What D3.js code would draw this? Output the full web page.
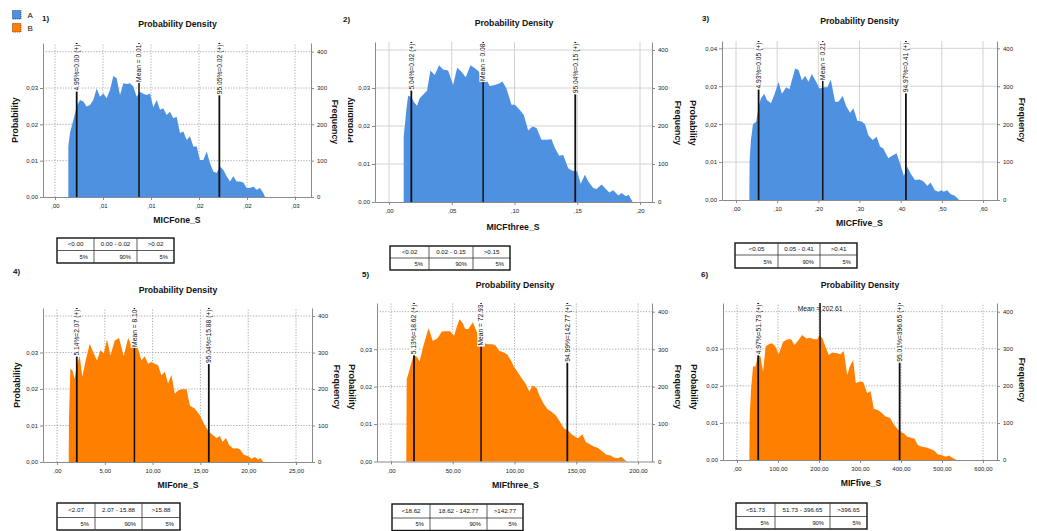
<!DOCTYPE html>
<html>
<head>
<meta charset="utf-8">
<script src="https://cdn.jsdelivr.net/npm/d3@7"></script>
<style>
  body { margin: 0; background: #fff; }
  text { font-family: "Liberation Sans", Arial, sans-serif; }
</style>
</head>
<body>
<svg id="chart" width="1037" height="531"></svg>
<script>
// ---- data: [x, frequency] per density curve ----
const dens1 = [[0.00139,0],[0.00139,139],[0.00156,176],[0.00191,212],[0.00226,249],[0.00260,267],[0.00295,263],[0.00330,249],[0.00365,253],[0.00399,267],[0.00434,299],[0.00469,276],[0.00503,285],[0.00538,272],[0.00573,295],[0.00608,333],[0.00642,327],[0.00677,281],[0.00712,313],[0.00747,311],[0.00781,313],[0.00816,304],[0.00851,276],[0.00885,290],[0.00920,284],[0.00955,281],[0.00990,285],[0.01024,247],[0.01059,267],[0.01094,240],[0.01128,244],[0.01163,226],[0.01198,235],[0.01233,217],[0.01267,221],[0.01302,176],[0.01337,180],[0.01372,157],[0.01406,167],[0.01441,139],[0.01476,139],[0.01510,102],[0.01545,102],[0.01580,125],[0.01615,93],[0.01649,70],[0.01684,66],[0.01719,84],[0.01753,75],[0.01788,57],[0.01823,43],[0.01858,57],[0.01892,43],[0.01927,43],[0.01962,40],[0.01997,25],[0.02031,25],[0.02066,29],[0.02101,20],[0.02135,25],[0.02170,11],[0.02188,0]];
const dens2 = [[0.0117,0],[0.0117,172],[0.0138,242],[0.0152,279],[0.0178,277],[0.0197,264],[0.0223,253],[0.0245,273],[0.0271,282],[0.0303,293],[0.0330,346],[0.0364,334],[0.0399,360],[0.0431,349],[0.0471,346],[0.0511,308],[0.0543,353],[0.0577,343],[0.0612,328],[0.0649,360],[0.0684,352],[0.0718,343],[0.0745,321],[0.0777,321],[0.0803,305],[0.0843,308],[0.0878,312],[0.0904,317],[0.0936,299],[0.0976,256],[0.1003,256],[0.1043,242],[0.1074,229],[0.1109,188],[0.1144,199],[0.1176,195],[0.1215,164],[0.1255,164],[0.1295,165],[0.1322,142],[0.1356,122],[0.1388,124],[0.1428,89],[0.1455,83],[0.1500,80],[0.1527,48],[0.1561,72],[0.1588,54],[0.1628,37],[0.1654,34],[0.1694,46],[0.1721,37],[0.1755,25],[0.1787,31],[0.1827,17],[0.1854,24],[0.1888,15],[0.1910,19],[0.1941,0]];
const dens3 = [[0.0323,0],[0.0331,105],[0.0363,158],[0.0412,200],[0.0493,207],[0.0549,246],[0.0606,268],[0.0687,280],[0.0751,264],[0.0848,255],[0.0929,277],[0.1034,311],[0.1115,280],[0.1220,297],[0.1300,292],[0.1357,316],[0.1438,347],[0.1519,343],[0.1599,316],[0.1680,327],[0.1761,312],[0.1842,332],[0.1947,312],[0.2027,294],[0.2141,297],[0.2221,297],[0.2302,318],[0.2407,259],[0.2488,259],[0.2593,274],[0.2674,248],[0.2771,230],[0.2851,242],[0.2948,209],[0.3053,207],[0.3134,200],[0.3215,171],[0.3320,158],[0.3417,167],[0.3498,141],[0.3578,136],[0.3700,110],[0.3780,116],[0.3901,123],[0.3982,97],[0.4079,63],[0.4160,88],[0.4241,70],[0.4346,53],[0.4467,54],[0.4564,48],[0.4645,37],[0.4725,46],[0.4830,26],[0.4911,22],[0.4992,26],[0.5048,22],[0.5129,26],[0.5210,16],[0.5315,11],[0.5420,0]];
const dens4 = [[1.22,0],[1.26,128],[1.40,256],[1.61,251],[1.85,228],[2.09,265],[2.37,292],[2.65,233],[3.00,278],[3.42,324],[3.84,297],[4.19,278],[4.54,306],[4.89,297],[5.24,336],[5.59,292],[6.04,333],[6.49,340],[6.98,290],[7.44,340],[7.79,320],[8.14,324],[8.48,310],[8.83,278],[9.18,290],[9.53,269],[9.88,274],[10.23,269],[10.57,265],[10.92,237],[11.27,247],[11.62,215],[11.97,239],[12.32,187],[12.67,196],[13.02,199],[13.55,199],[13.90,155],[14.42,146],[14.94,128],[15.47,100],[15.92,82],[16.34,73],[16.69,66],[17.04,71],[17.32,55],[17.67,66],[18.02,46],[18.44,37],[18.85,38],[19.13,35],[19.55,20],[20.01,16],[20.36,9],[20.71,14],[21.05,7],[21.30,11],[21.58,0]];
const dens5 = [[12.4,0],[12.7,218],[15.6,253],[18.3,283],[21.0,280],[23.1,267],[26.4,311],[30.4,356],[33.9,322],[37.7,329],[41.2,347],[44.7,348],[47.9,348],[51.1,336],[53.3,360],[55.5,380],[58.1,369],[60.0,354],[62.7,354],[66.2,372],[69.4,347],[72.1,322],[74.8,318],[78.1,313],[81.6,313],[84.3,311],[87.8,295],[91.0,292],[94.2,286],[96.9,271],[99.6,253],[102.3,240],[105.8,222],[109.3,206],[112.0,187],[114.7,203],[117.9,196],[120.6,173],[123.3,156],[126.5,140],[130.0,133],[133.5,123],[136.7,107],[140.0,89],[143.5,82],[146.2,73],[148.9,67],[151.5,62],[155.0,73],[157.7,52],[161.0,46],[164.2,40],[167.7,36],[171.2,27],[174.4,18],[177.7,16],[180.3,11],[183.8,9],[186.5,13],[189.2,4],[191.1,0]];
const dens6 = [[30.1,0],[30.9,117],[34.2,189],[39.1,252],[44.8,252],[50.5,279],[57.0,281],[63.5,238],[70.0,306],[77.3,312],[85.5,315],[93.6,306],[101.8,285],[112.4,319],[123.7,326],[131.9,326],[140.0,310],[148.2,321],[158.8,337],[169.3,328],[177.5,330],[187.3,326],[195.4,326],[201.9,337],[208.4,328],[215.7,306],[223.9,283],[232.0,290],[244.2,288],[252.4,285],[260.5,294],[268.7,229],[275.2,252],[283.3,270],[289.8,207],[298.0,211],[307.7,211],[317.5,180],[325.6,186],[333.8,138],[343.6,135],[354.1,126],[362.3,117],[372.9,114],[382.6,96],[397.3,76],[407.1,72],[415.2,63],[425.0,60],[433.1,57],[441.3,40],[451.8,36],[464.0,33],[472.2,30],[482.0,24],[490.1,15],[500.7,13],[508.8,9],[517.0,12],[525.1,6],[535.7,0]];

// reference lines: [x, label]
const refs1 = [[0.00226,"4.95%=0.00 (+)"],[0.00875,"Mean = 0.01"],[0.01712,"95.05%=0.02 (+)"]];
const refs2 = [[0.0178,"5.04%=0.02 (+)"],[0.0750,"Mean = 0.08"],[0.1484,"95.04%=0.15 (+)"]];
const refs3 = [[0.0549,"4.93%=0.05 (+)"],[0.2107,"Mean = 0.21"],[0.4127,"94.97%=0.41 (+)"]];
const refs4 = [[2.07,"5.14%=2.07 (+)"],[8.10,"Mean = 8.10"],[15.88,"95.04%=15.88 (+)"]];
const refs5 = [[18.62,"5.13%=18.62 (+)"],[72.93,"Mean = 72.93"],[142.77,"94.99%=142.77 (+)"]];
const refs6 = [[51.73,"4.97%=51.73 (+)"],[202.61,"Mean = 202.61"],[396.65,"95.01%=396.65 (+)"]];

// ticks
const xTicks1 = [0,0.005,0.01,0.015,0.02,0.025], xLabels1 = [",00",",01",",01",",02",",02",",03"];
const xTicks2 = [0,0.05,0.1,0.15,0.2], xLabels2 = [",00",",05",",10",",15",",20"];
const xTicks3 = [0,0.1,0.2,0.3,0.4,0.5,0.6], xLabels3 = [",00",",10",",20",",30",",40",",50",",60"];
const xTicks4 = [0,5,10,15,20,25], xLabels4 = [",00","5,00","10,00","15,00","20,00","25,00"];
const xTicks5 = [0,50,100,150,200], xLabels5 = [",00","50,00","100,00","150,00","200,00"];
const xTicks6 = [0,100,200,300,400,500,600], xLabels6 = [",00","100,00","200,00","300,00","400,00","500,00","600,00"];
const probTicks = [0,0.01,0.02,0.03], probLabels = ["0,00","0,01","0,02","0,03"];
const probTicks3 = [0,0.01,0.02,0.03,0.04], probLabels3 = ["0,00","0,01","0,02","0,03","0,04"];
const freqTicks = [0,100,200,300,400], freqLabels = ["0","100","200","300","400"];

// variable names and percentile tables
const varNames = ["MICFone_S","MICFthree_S","MICFfive_S","MIFone_S","MIFthree_S","MIFfive_S"];
const ranges1 = ["<0.00","0.00 - 0.02",">0.02"];
const ranges2 = ["<0.02","0.02 - 0.15",">0.15"];
const ranges3 = ["<0.05","0.05 - 0.41",">0.41"];
const ranges4 = ["<2.07","2.07 - 15.88",">15.88"];
const ranges5 = ["<18.62","18.62 - 142.77",">142.77"];
const ranges6 = ["<51.73","51.73 - 396.65",">396.65"];
const shares = ["5%","90%","5%"];
const groups = ["A","B"];

const colA = "#4f91e1", colB = "#ff8000";
const FONT = '"Liberation Sans", Arial, sans-serif';

// layout of the collage (pixel positions)
const panels = [
  {num:"1)", numPos:[42,21], left:43, right:311, top:43, base:197, y400:51.7, tx0:55, txN:295, dotted:true,
   title:[177.5,26.5], xlab:[177,223], ylab:[15,120,-90], flab:[335,122],
   tbl:{x:[57,94,137,174], y:[238,250.5,263]},
   dens:dens1, refs:refs1, xTicks:xTicks1, xLabels:xLabels1, pT:probTicks, pL:probLabels, ranges:ranges1, color:colA},
  {num:"2)", numPos:[343,21.5], left:375, right:652, top:42, base:202, y400:50, tx0:389, txN:640, dotted:false,
   title:[514,25.5], xlab:[513,229.5], ylab:[350,120,-90], ylabClip:348, flab:[678,123],
   tbl:{x:[390,429,473,510], y:[246,258,270]},
   dens:dens2, refs:refs2, xTicks:xTicks2, xLabels:xLabels2, pT:probTicks, pL:probLabels, ranges:ranges2, color:colA},
  {num:"3)", numPos:[702,20.5], left:722, right:997, top:41, base:200, y400:48.3, tx0:736, txN:983, dotted:false,
   title:[859.5,23.5], xlab:[859.5,226], ylab:[693,123,90], flab:[1022,120],
   tbl:{x:[735,778,820,857], y:[243,255,268]},
   dens:dens3, refs:refs3, xTicks:xTicks3, xLabels:xLabels3, pT:probTicks3, pL:probLabels3, ranges:ranges3, color:colA},
  {num:"4)", numPos:[13,274], left:43, right:312, top:308, base:462, y400:316, tx0:57, txN:296, dotted:true,
   title:[178,292.5], xlab:[178,487.5], ylab:[17,385,-90], flab:[337,387],
   tbl:{x:[57,95,142,180], y:[503,517.5,530]},
   dens:dens4, refs:refs4, xTicks:xTicks4, xLabels:xLabels4, pT:probTicks, pL:probLabels, ranges:ranges4, color:colB},
  {num:"5)", numPos:[362,276.5], left:377, right:652, top:303, base:461.5, y400:311.7, tx0:391, txN:638, dotted:true,
   title:[515,287.5], xlab:[515.5,487.5], ylab:[352,387,90], flab:[678,387],
   tbl:{x:[392,430,487,523], y:[504,518,530.5]},
   dens:dens5, refs:refs5, xTicks:xTicks5, xLabels:xLabels5, pT:probTicks, pL:probLabels, ranges:ranges5, color:colB},
  {num:"6)", numPos:[701,276.5], left:723, right:997, top:303, base:460, y400:311.7, tx0:737, txN:983, dotted:true,
   title:[860,287.5], xlab:[861,485.5], ylab:[694,387,90], flab:[1022,380], meanFlat:true,
   tbl:{x:[736,775,830,867], y:[503,516.5,529]},
   dens:dens6, refs:refs6, xTicks:xTicks6, xLabels:xLabels6, pT:probTicks, pL:probLabels, ranges:ranges6, color:colB}
];

const svg = d3.select('#chart');
svg.append('rect').attr('width',1037).attr('height',531).attr('fill','#fff');

function styleAxis(sel){
  sel.attr('font-family', FONT).attr('font-size', 6);
  sel.select('.domain').attr('stroke','#8a8a8a');
  sel.selectAll('.tick line').attr('stroke','#8a8a8a');
  sel.selectAll('.tick text').attr('fill','#222');
}

function vLabel(g, pos, text, clipId){
  // wrapper group carries the clip so the clip rect stays in page coordinates
  const wrap = g.append('g');
  if (clipId) wrap.attr('clip-path', `url(#${clipId})`);
  wrap.append('text')
    .attr('transform', `translate(${pos[0]},${pos[1]}) rotate(${pos[2]})`)
    .attr('text-anchor','middle').attr('dy','0.35em')
    .attr('font-weight','bold').attr('font-size',8.8).attr('fill','#111')
    .text(text);
}

function drawPanel(p, i){
  const g = svg.append('g');
  const t0 = p.xTicks[0], tN = p.xTicks[p.xTicks.length-1];
  const k = (p.txN - p.tx0) / (tN - t0);
  const x = d3.scaleLinear()
    .domain([t0 + (p.left - p.tx0)/k, t0 + (p.right - p.tx0)/k])
    .range([p.left, p.right]);
  const fMax = 400 * (p.base - p.top) / (p.base - p.y400);
  const yF = d3.scaleLinear().domain([0, fMax]).range([p.base, p.top]);
  const yP = d3.scaleLinear().domain([0, fMax/10000]).range([p.base, p.top]);

  // grid
  const gridCol = p.dotted ? '#a8a8a8' : '#d2d2d2';
  const dash = p.dotted ? '1.2,1.6' : null;
  g.selectAll('line.vg').data(p.xTicks).join('line').attr('class','vg')
    .attr('x1', d => x(d)).attr('x2', d => x(d)).attr('y1', p.base).attr('y2', p.top)
    .attr('stroke', gridCol).attr('stroke-dasharray', dash);
  g.selectAll('line.hg').data(freqTicks.slice(1)).join('line').attr('class','hg')
    .attr('x1', p.left).attr('x2', p.right).attr('y1', d => yF(d)).attr('y2', d => yF(d))
    .attr('stroke', gridCol).attr('stroke-dasharray', dash);

  // density area
  const area = d3.area().x(d => x(d[0])).y0(p.base).y1(d => yF(d[1]));
  g.append('path').datum(p.dens).attr('d', area).attr('fill', p.color);

  // reference lines with labels
  p.refs.forEach(([v, label], j) => {
    const xv = x(v);
    g.append('line').attr('x1', xv).attr('x2', xv).attr('y1', p.base).attr('y2', p.top)
      .attr('stroke', '#111').attr('stroke-width', j === 1 ? 1.5 : 1.8);
    if (p.meanFlat && j === 1) {
      g.append('text').attr('x', xv).attr('y', p.top + 7.5).attr('text-anchor','middle')
        .attr('font-size', 6.7).attr('fill','#111').text(label);
      return;
    }
    const lg = g.append('g').attr('transform', `translate(${xv},${p.top + 1.5}) rotate(-90)`);
    const r = lg.append('rect');
    const tx = lg.append('text').attr('text-anchor','end').attr('dy','0.35em')
      .attr('font-size', 6.7).attr('fill','#111').text(label);
    const len = tx.node().getComputedTextLength();
    r.attr('x', -len - 1).attr('y', -3.8).attr('width', len + 1.5).attr('height', 7.6).attr('fill','#fff');
  });

  // axes
  g.append('g').attr('transform', `translate(${p.left},0)`)
    .call(d3.axisLeft(yP).tickValues(p.pT).tickFormat((d, n) => p.pL[n]).tickSize(3).tickSizeOuter(0).tickPadding(2))
    .call(styleAxis);
  g.append('g').attr('transform', `translate(${p.right},0)`)
    .call(d3.axisRight(yF).tickValues(freqTicks).tickFormat((d, n) => freqLabels[n]).tickSize(3).tickSizeOuter(0).tickPadding(3))
    .call(styleAxis);
  g.append('g').attr('transform', `translate(0,${p.base})`)
    .call(d3.axisBottom(x).tickValues(p.xTicks).tickFormat((d, n) => p.xLabels[n]).tickSize(3).tickSizeOuter(0).tickPadding(4))
    .call(styleAxis);

  // texts
  g.append('text').attr('x', p.numPos[0]).attr('y', p.numPos[1]).attr('font-weight','bold')
    .attr('font-size', 8).attr('fill','#111').text(p.num);
  g.append('text').attr('x', p.title[0]).attr('y', p.title[1]).attr('text-anchor','middle')
    .attr('font-weight','bold').attr('font-size', 8.7).attr('fill','#111').text('Probability Density');
  g.append('text').attr('x', p.xlab[0]).attr('y', p.xlab[1]).attr('text-anchor','middle')
    .attr('font-weight','bold').attr('font-size', 8.7).attr('fill','#111').text(varNames[i]);

  let clipId = null;
  if (p.ylabClip) {
    clipId = 'ylclip' + i;
    svg.append('clipPath').attr('id', clipId).append('rect')
      .attr('x', p.ylabClip).attr('y', 0).attr('width', 100).attr('height', 531);
  }
  vLabel(g, p.ylab, 'Probability', clipId);
  vLabel(g, [p.flab[0], p.flab[1], 90], 'Frequency');

  // percentile table
  const tb = p.tbl;
  const tg = svg.append('g');
  tg.append('rect').attr('x', tb.x[0]).attr('y', tb.y[0])
    .attr('width', tb.x[3] - tb.x[0]).attr('height', tb.y[2] - tb.y[0])
    .attr('fill','#fff').attr('stroke','#111').attr('stroke-width', 1.4);
  tg.append('line').attr('x1', tb.x[0]).attr('x2', tb.x[3]).attr('y1', tb.y[1]).attr('y2', tb.y[1])
    .attr('stroke','#333').attr('stroke-width', 0.8);
  [1, 2].forEach(c => tg.append('line').attr('x1', tb.x[c]).attr('x2', tb.x[c])
    .attr('y1', tb.y[0]).attr('y2', tb.y[2]).attr('stroke','#333').attr('stroke-width', 0.8));
  p.ranges.forEach((s, c) => tg.append('text')
    .attr('x', (tb.x[c] + tb.x[c + 1]) / 2).attr('y', (tb.y[0] + tb.y[1]) / 2 + 2.2)
    .attr('text-anchor','middle').attr('font-size', 6.2).attr('fill','#111').text(s));
  shares.forEach((s, c) => tg.append('text')
    .attr('x', tb.x[c + 1] - 6).attr('y', (tb.y[1] + tb.y[2]) / 2 + 2.2)
    .attr('text-anchor','end').attr('font-size', 5.8).attr('fill','#111').text(s));
}

panels.forEach(drawPanel);

// legend
const lgd = svg.append('g');
lgd.selectAll('rect').data(groups).join('rect')
  .attr('x', 12.5).attr('y', (d, n) => 10.5 + n * 13).attr('width', 8.5).attr('height', 8.5)
  .attr('fill', (d, n) => n ? colB : colA)
  .attr('stroke', (d, n) => n ? '#7a3c00' : '#23466f').attr('stroke-width', 0.8).attr('stroke-dasharray', '1.2,0.8');
lgd.selectAll('text').data(groups).join('text')
  .attr('x', 27.5).attr('y', (d, n) => 18 + n * 13).attr('font-size', 8).attr('fill', '#111').text(d => d);
</script>
</body>
</html>
